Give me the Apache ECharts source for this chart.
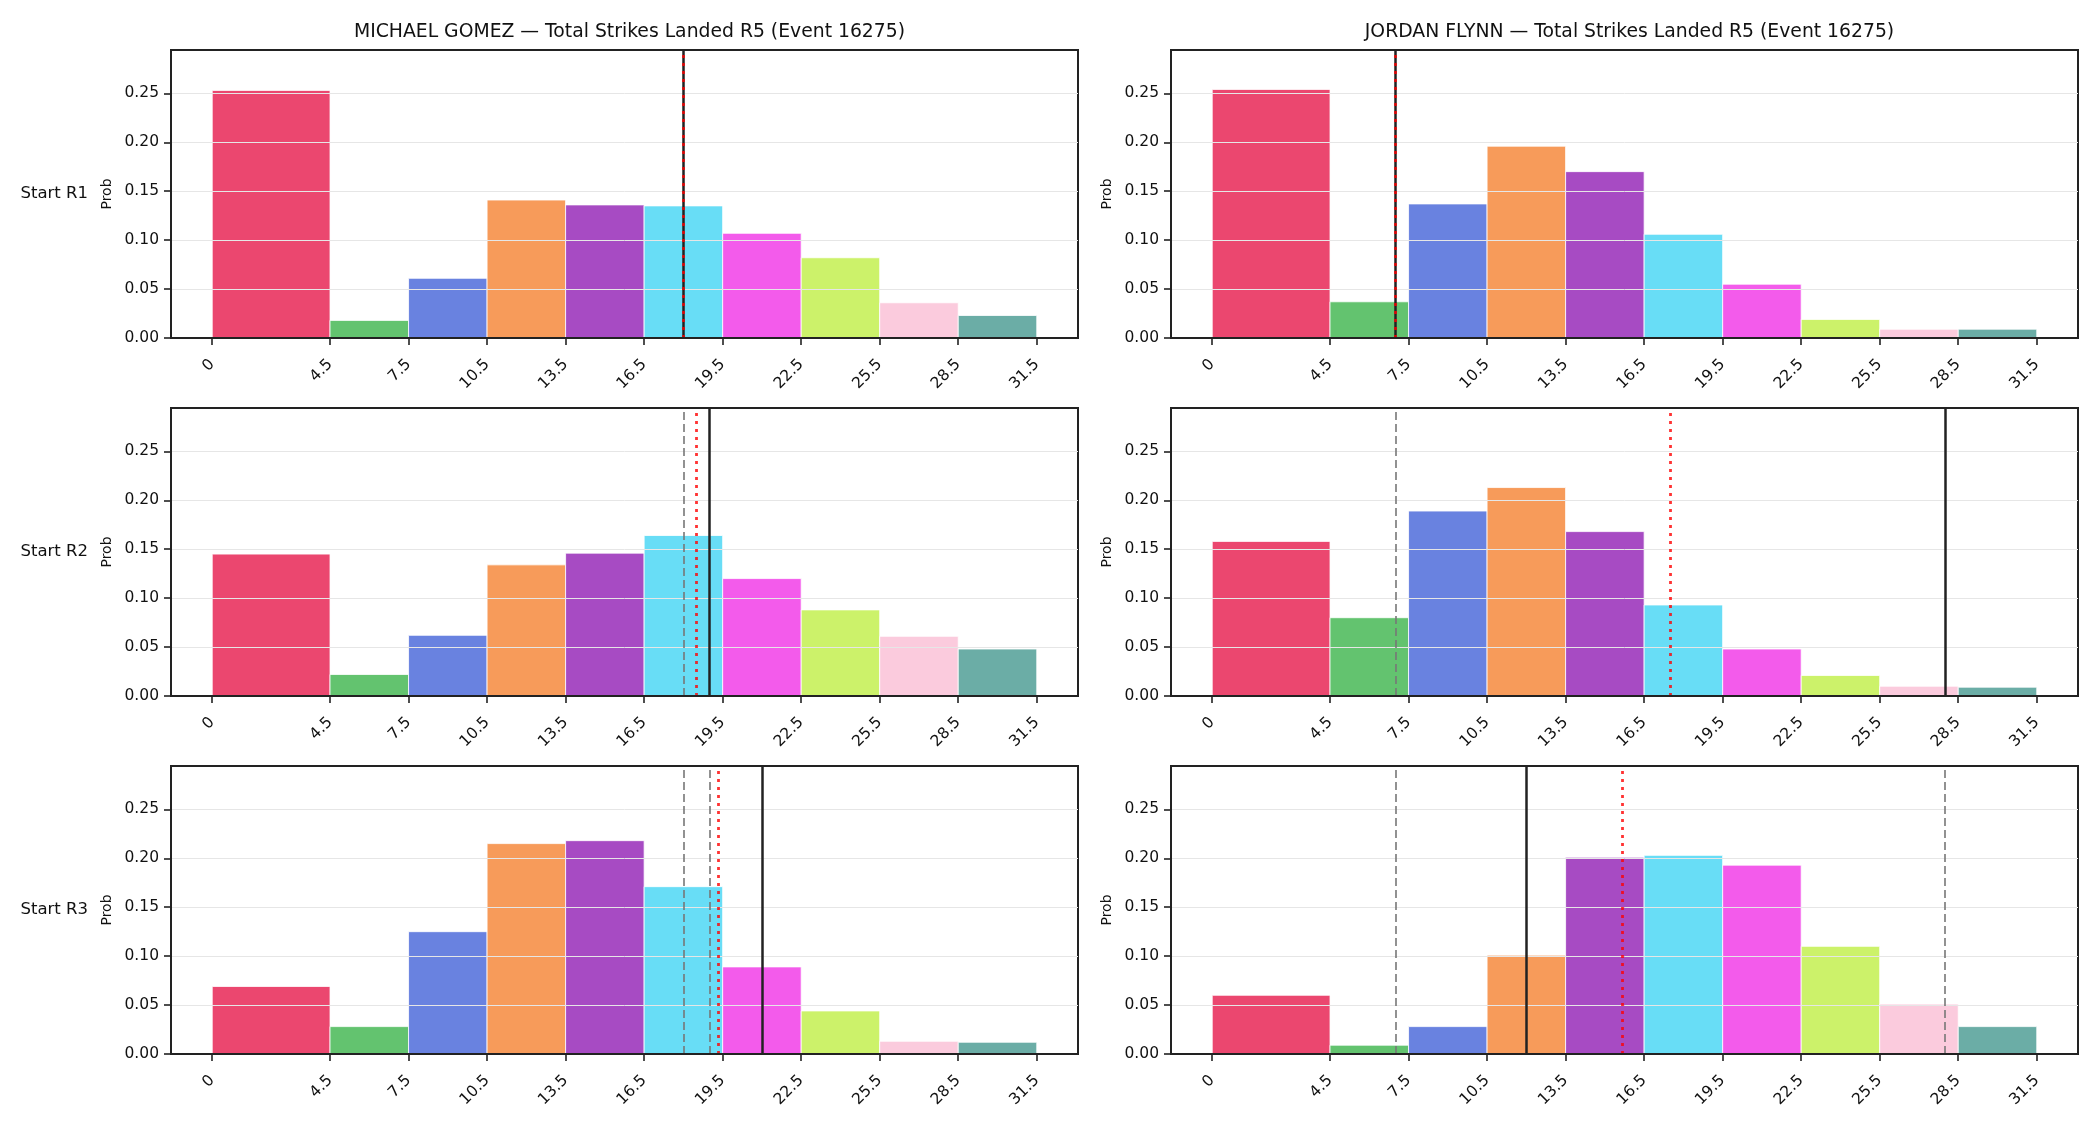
<!DOCTYPE html>
<html>
<head>
<meta charset="utf-8">
<script src="https://cdn.jsdelivr.net/npm/echarts@6/dist/echarts.min.js"></script>
<style>
  html, body { margin: 0; padding: 0; background: #fff; }
  #chart { width: 2100px; height: 1125px; }
</style>
</head>
<body>
<div id="chart"></div>
<script>
// bin edges of the histogram (also the x tick labels)
var binEdges = [0, 4.5, 7.5, 10.5, 13.5, 16.5, 19.5, 22.5, 25.5, 28.5, 31.5];
var yTicks = [0, 0.05, 0.10, 0.15, 0.20, 0.25];
var fighters = ['MICHAEL GOMEZ', 'JORDAN FLYNN'];
var rowLabels = ['Start R1', 'Start R2', 'Start R3'];
var barColors = ['#e6194b', '#3cb44b', '#4363d8', '#f58231', '#911eb4',
                 '#42d4f4', '#f032e6', '#bfef45', '#fabed4', '#469990'];

// probabilities per bin
var gomezR1 = [0.253, 0.018, 0.061, 0.141, 0.136, 0.135, 0.107, 0.082, 0.036, 0.023];
var gomezR2 = [0.145, 0.022, 0.062, 0.134, 0.146, 0.164, 0.120, 0.088, 0.061, 0.048];
var gomezR3 = [0.069, 0.028, 0.125, 0.215, 0.218, 0.171, 0.089, 0.044, 0.013, 0.012];
var flynnR1 = [0.254, 0.037, 0.137, 0.196, 0.170, 0.106, 0.055, 0.019, 0.009, 0.009];
var flynnR2 = [0.158, 0.080, 0.189, 0.213, 0.168, 0.093, 0.048, 0.021, 0.010, 0.009];
var flynnR3 = [0.060, 0.009, 0.028, 0.101, 0.201, 0.203, 0.193, 0.110, 0.051, 0.028];

// vertical markers: solid black, red dotted, grey dashed
var gomezSolid = [18, 19, 21];
var gomezDotted = [18, 18.5, 19.33];
var gomezDashed = [[], [18], [18, 19]];
var flynnSolid = [7, 28, 12];
var flynnDotted = [7, 17.5, 15.67];
var flynnDashed = [[], [7], [7, 28]];

var panels = [
  [gomezR1, flynnR1],
  [gomezR2, flynnR2],
  [gomezR3, flynnR3]
];
var solids = [gomezSolid, flynnSolid];
var dotteds = [gomezDotted, flynnDotted];
var dasheds = [gomezDashed, flynnDashed];

var FONT = 'DejaVu Sans';
var gridLeft = [171, 1171];
var gridTop = [50, 408, 766];
var gridW = 907;
var gridH = 288;
var yMax = 0.2943;

var chart = echarts.init(document.getElementById('chart'), null, { renderer: 'canvas' });

var grids = [], xAxes = [], yAxes = [], series = [], titles = [], graphics = [];

for (var r = 0; r < 3; r++) {
  for (var c = 0; c < 2; c++) {
    var idx = grids.length;
    grids.push({
      left: gridLeft[c], top: gridTop[r], width: gridW, height: gridH,
      show: true, borderColor: '#222', borderWidth: 2, backgroundColor: 'transparent'
    });
    xAxes.push({
      type: 'value', gridIndex: idx, min: -1.575, max: 33.075, z: 5,
      axisLine: { show: true, onZero: false, lineStyle: { color: '#222', width: 2 } },
      axisTick: { show: true, customValues: binEdges, length: 7, lineStyle: { color: '#222', width: 1.6 } },
      axisLabel: {
        customValues: binEdges, rotate: 45, margin: 24,
        fontFamily: FONT, fontSize: 15.5, color: '#111',
        formatter: function (v) { return String(v); }
      },
      splitLine: { show: false }
    });
    yAxes.push({
      type: 'value', gridIndex: idx, min: 0, max: yMax, interval: 0.05, z: 5,
      axisLine: { show: true, onZero: false, lineStyle: { color: '#222', width: 2 } },
      axisTick: { show: true, customValues: yTicks, length: 7, lineStyle: { color: '#222', width: 1.6 } },
      axisLabel: {
        customValues: yTicks, margin: 12,
        fontFamily: FONT, fontSize: 15.5, color: '#111',
        formatter: function (v) { return v.toFixed(2); }
      },
      splitLine: { show: true, lineStyle: { color: '#e6e6e6', width: 1 } }
    });

    var probs = panels[r][c];
    var barData = probs.map(function (p, i) {
      return [binEdges[i], binEdges[i + 1], p, i];
    });
    series.push({
      type: 'custom', xAxisIndex: idx, yAxisIndex: idx, silent: true,
      data: barData,
      encode: { x: [0, 1], y: 2 },
      renderItem: function (params, api) {
        var topLeft = api.coord([api.value(0), api.value(2)]);
        var botRight = api.coord([api.value(1), 0]);
        return {
          type: 'rect',
          shape: { x: topLeft[0], y: topLeft[1], width: botRight[0] - topLeft[0], height: botRight[1] - topLeft[1] },
          style: { fill: barColors[api.value(3)], stroke: '#ffffff', lineWidth: 1, opacity: 0.8 }
        };
      }
    });

    var lines = [];
    dasheds[c][r].forEach(function (v) {
      lines.push({ xAxis: v, lineStyle: { color: '#777777', width: 1.6, type: [8, 4] } });
    });
    lines.push({ xAxis: solids[c][r], lineStyle: { color: '#222222', width: 2.5, type: 'solid' } });
    lines.push({ xAxis: dotteds[c][r], lineStyle: { color: 'rgba(255,0,0,0.8)', width: 2.8, type: [3, 5] } });
    series.push({
      type: 'line', xAxisIndex: idx, yAxisIndex: idx, data: [], silent: true,
      markLine: {
        silent: true, symbol: ['none', 'none'], animation: false,
        label: { show: false },
        data: lines
      }
    });

    graphics.push({
      type: 'text', x: gridLeft[c] - 64, y: gridTop[r] + gridH / 2, rotation: Math.PI / 2,
      style: { text: 'Prob', fontFamily: FONT, fontSize: 14, fill: '#111', align: 'center', verticalAlign: 'middle' }
    });
  }
  graphics.push({
    type: 'text', x: 88, y: gridTop[r] + gridH / 2,
    style: { text: rowLabels[r], fontFamily: FONT, fontSize: 16.5, fill: '#111', align: 'right', verticalAlign: 'middle' }
  });
}

for (var c2 = 0; c2 < 2; c2++) {
  titles.push({
    text: fighters[c2] + ' \u2014 Total Strikes Landed R5 (Event 16275)',
    left: gridLeft[c2] + gridW / 2, top: 18, textAlign: 'center',
    textStyle: { fontFamily: FONT, fontSize: 18.8, fontWeight: 'normal', color: '#111' }
  });
}

var option = {
  animation: false,
  backgroundColor: '#ffffff',
  title: titles,
  grid: grids,
  xAxis: xAxes,
  yAxis: yAxes,
  series: series,
  graphic: graphics
};

chart.setOption(option);
</script>
</body>
</html>
